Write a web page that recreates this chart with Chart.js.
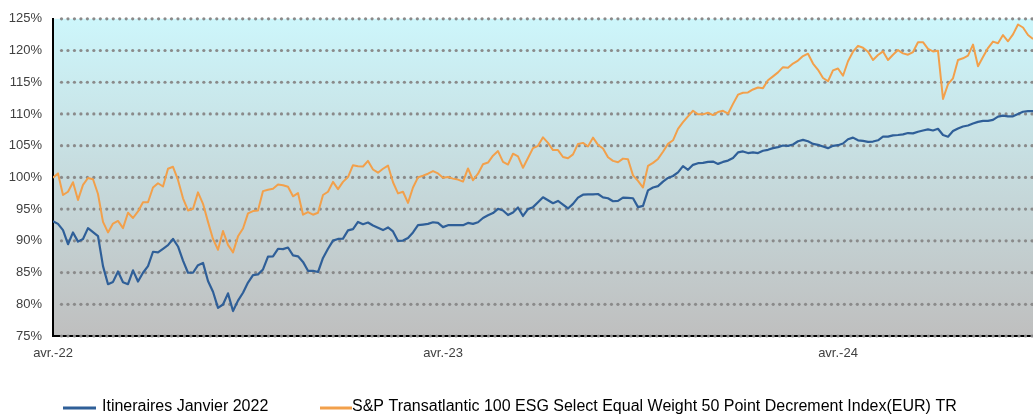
<!DOCTYPE html>
<html lang="fr">
<head>
<meta charset="utf-8">
<title>Itineraires Janvier 2022</title>
<script src="https://cdn.jsdelivr.net/npm/chart.js@4.4.1/dist/chart.umd.min.js"></script>
<style>
  html, body { margin: 0; padding: 0; background: #fff; }
  #wrap { width: 1033px; height: 415px; }
</style>
</head>
<body>
<div id="wrap"><canvas id="perf-chart" width="1033" height="415"></canvas></div>
<script>
// --- DATA ---
// one point every ~4.7 days, starting early April 2022
const tickLabels = ['avr.-22', 'avr.-23', 'avr.-24'];
const tickIndex = [0, 78, 157];

const seriesNames = [
    'Itineraires Janvier 2022',
    'S&P Transatlantic 100 ESG Select Equal Weight 50 Point Decrement Index(EUR) TR'
];

const itineraires = [
    93.09, 92.67, 91.69, 89.47, 91.33, 89.88, 90.30, 92.00, 91.38, 90.76,
    86.01, 83.17, 83.53, 85.18, 83.47, 83.17, 85.34, 83.58, 84.97, 86.01,
    88.28, 88.18, 88.75, 89.32, 90.30, 89.11, 86.89, 84.97, 84.97, 86.16,
    86.52, 83.68, 81.98, 79.44,
    79.96, 81.72, 78.93, 80.58, 81.82, 83.42, 84.61, 84.71, 85.49, 87.51,
    87.56, 88.75, 88.70, 88.95, 87.71, 87.56, 86.68, 85.28, 85.28, 85.08,
    87.30, 88.75, 90.04, 90.30, 90.35, 91.64, 91.85, 92.98, 92.62, 92.88,
    92.41, 92.05, 91.69,
    92.11, 91.49, 89.99, 90.04, 90.45, 91.33, 92.47, 92.57, 92.67, 92.93,
    92.83, 92.16, 92.47, 92.47, 92.47, 92.47, 92.83, 92.67, 92.93, 93.60,
    94.02, 94.38, 95.05, 94.79, 94.07, 94.48, 95.26, 93.92, 95.00, 95.31,
    96.09, 96.86, 96.40,
    95.93, 96.29, 95.72, 95.10, 95.83, 96.81, 97.27, 97.33, 97.33, 97.38,
    96.86, 96.71, 96.24, 96.29, 96.81, 96.76, 96.71, 95.31, 95.52, 97.95,
    98.41, 98.62, 99.34, 99.91, 100.22, 100.79, 101.77, 101.20, 101.98, 102.24,
    102.29, 102.44, 102.49,
    102.13, 102.44, 102.65, 103.06, 103.94, 104.09, 103.84, 103.94, 103.84, 104.20,
    104.35, 104.61, 104.77, 105.03, 104.97, 105.18, 105.70, 105.91, 105.70, 105.28,
    105.13, 104.87, 104.61, 104.97, 105.08, 105.34, 106.01, 106.27, 105.85, 105.75,
    105.59, 105.65, 105.85,
    106.42, 106.42, 106.63, 106.68, 106.78, 106.99, 106.94, 107.20, 107.40, 107.56,
    107.40, 107.66, 106.68, 106.42, 107.30, 107.71, 108.02, 108.18, 108.49, 108.75,
    108.90, 108.90, 109.06, 109.57, 109.73, 109.63, 109.63, 109.99, 110.35, 110.45,
    110.45
];

const transatlantic = [
    99.96, 100.63, 97.22, 97.74, 99.24, 96.45, 98.82, 99.91, 99.70, 97.38,
    92.99, 91.33, 92.72, 93.14, 92.00, 94.43, 93.60, 94.64, 96.09, 96.09,
    98.41, 99.08, 98.57, 101.36, 101.67, 99.60, 96.71, 94.79, 95.05, 97.64,
    95.83, 92.99, 90.30, 88.59,
    91.54, 89.37, 88.18, 90.71, 91.95, 94.33, 94.69, 94.79, 97.84, 98.05,
    98.20, 98.88, 98.77, 98.52, 97.02, 97.53, 94.12, 94.54, 94.12, 94.43,
    97.22, 97.74, 99.29, 98.15, 99.29, 100.06, 101.93, 101.77, 101.72, 102.60,
    101.25, 100.74, 101.36,
    101.87, 99.24, 97.48, 97.74, 95.98, 98.41, 100.01, 100.27, 100.58, 100.99,
    100.63, 99.96, 100.06, 99.81, 99.65, 99.34, 101.41, 99.55, 100.58, 102.08,
    102.34, 103.42, 104.15, 102.44, 102.03, 103.73, 103.32, 101.51, 103.06, 104.61,
    104.98, 106.32, 105.44,
    104.30, 104.30, 103.22, 103.01, 103.63, 105.28, 105.44, 104.87, 106.27, 105.13,
    104.56, 103.17, 102.60, 102.39, 102.96, 102.86, 100.32, 99.45, 98.40, 101.82,
    102.29, 102.91, 104.04, 105.28, 105.85, 107.66, 108.70, 109.63, 110.50, 109.94,
    109.94, 110.19, 109.83,
    110.30, 110.50, 110.04, 111.59, 113.04, 113.35, 113.40, 113.86, 114.17, 114.07,
    115.31, 115.93, 116.55, 117.38, 117.27, 117.95, 118.41, 119.13, 119.50, 117.95,
    116.96, 115.67, 115.16, 116.86, 117.17, 116.03, 118.31, 119.81, 120.74, 120.43,
    119.81, 118.51, 119.29,
    119.86, 118.51, 119.34, 120.07, 119.55, 119.34, 119.76, 121.31, 121.31, 120.27,
    119.86, 119.96, 112.37, 114.69, 115.62, 118.51, 118.77, 119.19, 120.94, 117.53,
    118.98, 120.38, 121.41, 121.15, 122.44, 121.46, 122.55, 124.10, 123.63, 122.44,
    121.82
];

// --- STYLE ---
const BLUE = '#2f5f98';
const ORANGE = '#f2a04b';
const FONT = "'Liberation Sans', Arial, sans-serif";
const TICK_COLOR = '#404040';

// --- PLUGINS ---

// cyan-to-grey wash behind the plot area
const plotBackground = {
    id: 'plotBackground',
    beforeDraw(chart) {
        const { ctx, chartArea: a } = chart;
        const g = ctx.createLinearGradient(0, a.top, 0, a.bottom);
        g.addColorStop(0, '#cdf6fb');
        g.addColorStop(1, '#bfbfbf');
        ctx.save();
        ctx.fillStyle = g;
        ctx.fillRect(a.left, a.top, a.right - a.left, a.bottom - a.top);
        ctx.restore();
    }
};

// round-dot horizontal gridlines on each y tick
const dottedGrid = {
    id: 'dottedGrid',
    beforeDatasetsDraw(chart) {
        const { ctx, chartArea: a, scales: { y } } = chart;
        ctx.save();
        ctx.fillStyle = '#8a8a8a';
        y.ticks.forEach(t => {
            const py = y.getPixelForValue(t.value);
            for (let px = a.left + 8.5; px < a.right; px += 6.47) {
                ctx.beginPath();
                ctx.arc(px, py, 1.6, 0, Math.PI * 2);
                ctx.fill();
            }
        });
        ctx.restore();
    }
};

// legend row under the axis
const legendRow = {
    id: 'legendRow',
    afterDraw(chart) {
        const { ctx } = chart;
        const slots = [
            { x: 63, w: 33, tx: 102 },
            { x: 320, w: 32, tx: 352 }
        ];
        ctx.save();
        ctx.font = '16px ' + FONT;
        ctx.textBaseline = 'middle';
        ctx.fillStyle = '#000';
        chart.data.datasets.forEach((ds, i) => {
            const s = slots[i];
            ctx.strokeStyle = ds.borderColor;
            ctx.lineWidth = 3;
            ctx.beginPath();
            ctx.moveTo(s.x, 408);
            ctx.lineTo(s.x + s.w, 408);
            ctx.stroke();
            ctx.fillText(ds.label, s.tx, 407);
        });
        ctx.restore();
    }
};

// --- CHART ---
const toPoints = values => values.map((v, i) => ({ x: i, y: v }));

new Chart(document.getElementById('perf-chart'), {
    type: 'line',
    data: {
        datasets: [
            {
                label: seriesNames[0],
                data: toPoints(itineraires),
                borderColor: BLUE,
                backgroundColor: BLUE,
                borderWidth: 2.2,
                pointRadius: 0,
                tension: 0,
                borderJoinStyle: 'round'
            },
            {
                label: seriesNames[1],
                data: toPoints(transatlantic),
                borderColor: ORANGE,
                backgroundColor: ORANGE,
                borderWidth: 2,
                pointRadius: 0,
                tension: 0,
                borderJoinStyle: 'round'
            }
        ]
    },
    options: {
        responsive: false,
        animation: false,
        devicePixelRatio: 1,
        layout: { padding: { top: 13, right: 0, bottom: 0, left: 0 } },
        plugins: {
            legend: { display: false },
            tooltip: { enabled: false }
        },
        scales: {
            x: {
                type: 'linear',
                min: 0,
                max: itineraires.length - 1,
                afterBuildTicks: axis => {
                    axis.ticks = tickIndex.map(v => ({ value: v }));
                },
                afterFit: axis => { axis.height = 79; },
                ticks: {
                    callback: (value, index) => tickLabels[index],
                    autoSkip: false,
                    maxRotation: 0,
                    padding: 10,
                    color: TICK_COLOR,
                    font: { family: FONT, size: 13 }
                },
                grid: { display: false, drawTicks: false },
                border: { display: true, color: '#000', width: 2 }
            },
            y: {
                min: 75,
                max: 125,
                afterFit: axis => { axis.width = 53; },
                ticks: {
                    stepSize: 5,
                    callback: v => v + '%',
                    padding: 11,
                    color: TICK_COLOR,
                    font: { family: FONT, size: 13 }
                },
                grid: { display: false, drawTicks: false },
                border: { display: true, color: '#000', width: 2 }
            }
        }
    },
    plugins: [plotBackground, dottedGrid, legendRow]
});
</script>
</body>
</html>
